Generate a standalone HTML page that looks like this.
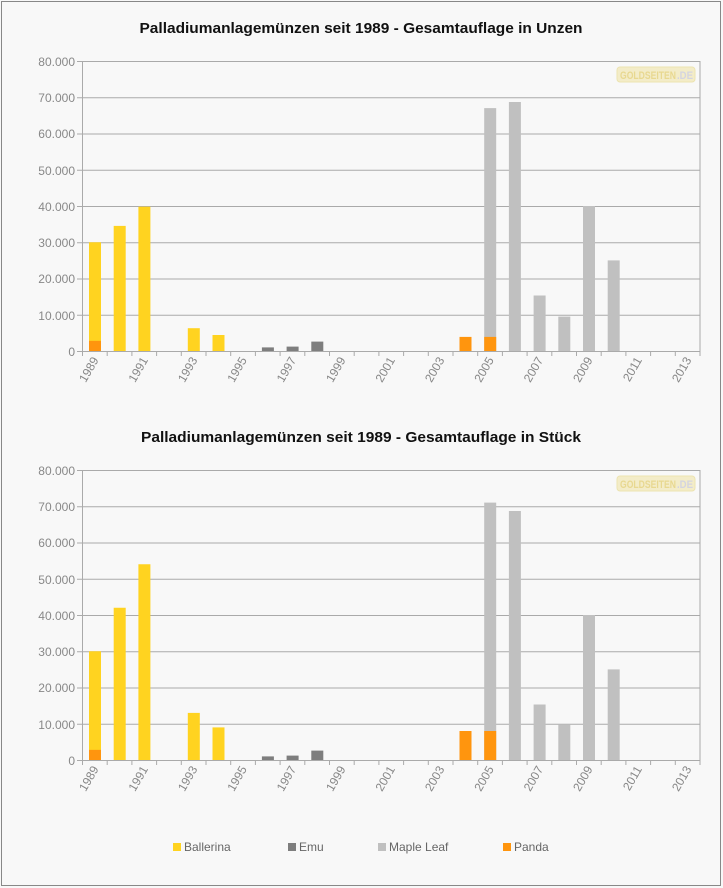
<!DOCTYPE html>
<html><head><meta charset="utf-8"><style>
html,body{margin:0;padding:0;background:#fff}
svg{display:block}
text{font-family:"Liberation Sans",sans-serif}
</style></head><body>
<svg width="723" height="888" viewBox="0 0 723 888" xmlns="http://www.w3.org/2000/svg">
<defs>
<g id="axes">
 <g stroke="#aaa" stroke-width="1">
  <line x1="77" y1="61.5" x2="700" y2="61.5"/>
  <line x1="77" y1="97.75" x2="700" y2="97.75"/>
  <line x1="77" y1="134" x2="700" y2="134"/>
  <line x1="77" y1="170.25" x2="700" y2="170.25"/>
  <line x1="77" y1="206.5" x2="700" y2="206.5"/>
  <line x1="77" y1="242.75" x2="700" y2="242.75"/>
  <line x1="77" y1="279" x2="700" y2="279"/>
  <line x1="77" y1="315.25" x2="700" y2="315.25"/>
  <line x1="77" y1="351.5" x2="700" y2="351.5"/>
  <line x1="82.5" y1="61" x2="82.5" y2="351"/>
  <line x1="700" y1="61" x2="700" y2="356"/>
 </g>
 <g stroke="#aaa">
  <path d="M82.5 351v5M107.2 351v5M131.9 351v5M156.6 351v5M181.3 351v5M206 351v5M230.7 351v5M255.4 351v5M280.1 351v5M304.8 351v5M329.5 351v5M354.2 351v5M378.9 351v5M403.6 351v5M428.3 351v5M453 351v5M477.7 351v5M502.4 351v5M527.1 351v5M551.8 351v5M576.5 351v5M601.2 351v5M625.9 351v5M650.6 351v5M675.3 351v5"/>
 </g>
 <g font-size="12" fill="#888" text-anchor="end">
  <text x="75" y="66">80.000</text><text x="75" y="102">70.000</text><text x="75" y="138">60.000</text>
  <text x="75" y="175">50.000</text><text x="75" y="211">40.000</text><text x="75" y="247">30.000</text>
  <text x="75" y="283">20.000</text><text x="75" y="320">10.000</text><text x="75" y="356">0</text>
 </g>
 <g font-size="12" fill="#888" text-anchor="end">
  <text transform="translate(99,360) rotate(-60)">1989</text>
  <text transform="translate(148.4,360) rotate(-60)">1991</text>
  <text transform="translate(197.8,360) rotate(-60)">1993</text>
  <text transform="translate(247.2,360) rotate(-60)">1995</text>
  <text transform="translate(296.6,360) rotate(-60)">1997</text>
  <text transform="translate(346,360) rotate(-60)">1999</text>
  <text transform="translate(395.4,360) rotate(-60)">2001</text>
  <text transform="translate(444.8,360) rotate(-60)">2003</text>
  <text transform="translate(494.2,360) rotate(-60)">2005</text>
  <text transform="translate(543.6,360) rotate(-60)">2007</text>
  <text transform="translate(593,360) rotate(-60)">2009</text>
  <text transform="translate(642.4,360) rotate(-60)">2011</text>
  <text transform="translate(691.8,360) rotate(-60)">2013</text>
 </g>
 <rect x="617" y="67" width="78" height="15" rx="3" fill="#f3ecc8" stroke="#ece3b0"/>
 <text x="620" y="79" font-size="11" font-weight="bold" fill="#e8d890" textLength="56" lengthAdjust="spacingAndGlyphs">GOLDSEITEN</text>
 <text x="677" y="79" font-size="11" font-weight="bold" fill="#d4d4e0" textLength="16" lengthAdjust="spacingAndGlyphs">.DE</text>
</g>
</defs>
<rect x="0" y="0" width="723" height="888" fill="#f8f8f8"/>
<rect x="1.5" y="1.5" width="719" height="884" fill="none" stroke="#888"/>

<text x="361" y="33" font-size="15" font-weight="bold" fill="#111" text-anchor="middle" textLength="443" lengthAdjust="spacingAndGlyphs">Palladiumanlagemünzen seit 1989 - Gesamtauflage in Unzen</text>
<use href="#axes"/>
<g fill="#ffd320">
 <rect x="89" y="242.25" width="12" height="108.75"/>
 <rect x="113.7" y="225.9" width="12" height="125.1"/>
 <rect x="138.4" y="206.7" width="12" height="144.3"/>
 <rect x="187.8" y="328.2" width="12" height="22.8"/>
 <rect x="212.5" y="335" width="12" height="16"/>
</g>
<g fill="#7e7e7e">
 <rect x="261.9" y="347.4" width="12" height="3.6"/>
 <rect x="286.6" y="346.6" width="12" height="4.4"/>
 <rect x="311.3" y="341.6" width="12" height="9.4"/>
</g>
<g fill="#c0c0c0">
 <rect x="484.2" y="108.1" width="12" height="242.9"/>
 <rect x="508.9" y="102" width="12" height="249"/>
 <rect x="533.6" y="295.5" width="12" height="55.5"/>
 <rect x="558.3" y="316.6" width="12" height="34.4"/>
 <rect x="583" y="206" width="12" height="145"/>
 <rect x="607.7" y="260.4" width="12" height="90.6"/>
</g>
<g fill="#ff950e">
 <rect x="89" y="340.85" width="12" height="10.15"/>
 <rect x="459.5" y="336.9" width="12" height="14.1"/>
 <rect x="484.2" y="336.9" width="12" height="14.1"/>
</g>

<text x="361" y="442" font-size="15" font-weight="bold" fill="#111" text-anchor="middle" textLength="440" lengthAdjust="spacingAndGlyphs">Palladiumanlagemünzen seit 1989 - Gesamtauflage in Stück</text>
<use href="#axes" transform="translate(0,409)"/>
<g fill="#ffd320">
 <rect x="89" y="651.25" width="12" height="108.75"/>
 <rect x="113.7" y="607.75" width="12" height="152.25"/>
 <rect x="138.4" y="564.25" width="12" height="195.75"/>
 <rect x="187.8" y="712.9" width="12" height="47.1"/>
 <rect x="212.5" y="727.4" width="12" height="32.6"/>
</g>
<g fill="#7e7e7e">
 <rect x="261.9" y="756.4" width="12" height="3.6"/>
 <rect x="286.6" y="755.6" width="12" height="4.4"/>
 <rect x="311.3" y="750.6" width="12" height="9.4"/>
</g>
<g fill="#c0c0c0">
 <rect x="484.2" y="502.6" width="12" height="257.4"/>
 <rect x="508.9" y="511" width="12" height="249"/>
 <rect x="533.6" y="704.5" width="12" height="55.5"/>
 <rect x="558.3" y="724.8" width="12" height="35.2"/>
 <rect x="583" y="615" width="12" height="145"/>
 <rect x="607.7" y="669.4" width="12" height="90.6"/>
</g>
<g fill="#ff950e">
 <rect x="89" y="749.85" width="12" height="10.15"/>
 <rect x="459.5" y="731" width="12" height="29"/>
 <rect x="484.2" y="731" width="12" height="29"/>
</g>

<g font-size="12" fill="#666">
 <rect x="173" y="843" width="8" height="8" fill="#ffd320"/><text x="184" y="851">Ballerina</text>
 <rect x="288" y="843" width="8" height="8" fill="#7e7e7e"/><text x="299" y="851">Emu</text>
 <rect x="378" y="843" width="8" height="8" fill="#c0c0c0"/><text x="389" y="851">Maple Leaf</text>
 <rect x="503" y="843" width="8" height="8" fill="#ff950e"/><text x="514" y="851">Panda</text>
</g>
</svg>
</body></html>
